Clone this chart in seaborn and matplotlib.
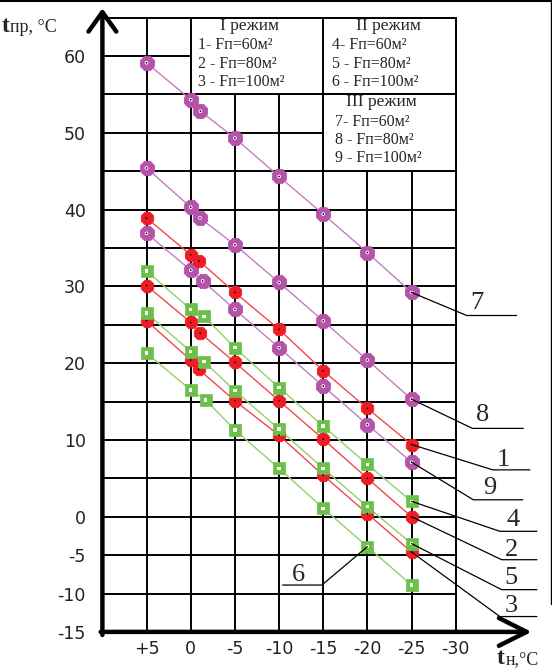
import numpy as np
import pandas as pd
import matplotlib
matplotlib.use("Agg")
import matplotlib.pyplot as plt
from matplotlib.lines import Line2D
from matplotlib.patches import Rectangle
import seaborn as sns

# ---------------- data ----------------
t_out = [5, 0, -5, -10, -15, -20, -25]          # outdoor temperature, °C
series_names = ["1", "2", "3", "4", "5", "6", "7", "8", "9"]
regimes = ["I", "I", "I", "II", "II", "II", "III", "III", "III"]

t_pr_1 = [38.9, 34.1, 29.2, 24.4, 19.0, 14.1, 9.4]
t_pr_2 = [30.1, 25.3, 20.1, 15.1, 10.1, 5.0, 0.0]
t_pr_3 = [25.5, 20.4, 15.1, 10.6, 5.4, 0.4, -4.6]
t_pr_4 = [32.0, 27.0, 22.0, 16.8, 11.8, 6.8, 2.0]
t_pr_5 = [26.5, 21.5, 16.4, 11.4, 6.3, 1.3, -3.5]
t_pr_6 = [21.3, 16.5, 11.3, 6.3, 1.1, -3.9, -8.9]
t_pr_7 = [59.1, 54.3, 49.3, 44.3, 39.4, 34.4, 29.2]
t_pr_8 = [45.4, 40.3, 35.4, 30.5, 25.5, 20.4, 15.3]
t_pr_9 = [36.9, 32.1, 27.0, 22.0, 17.0, 12.0, 7.1]

# extra point of every series near t_out = -1
mid_x = [-0.95, -1.1, -0.9, -1.5, -1.5, -1.7, -1.1, -1.05, -1.35]
mid_y = [33.3, 23.9, 19.2, 26.1, 20.2, 15.2, 52.8, 38.9, 30.7]

y_ticks = [60, 50, 40, 30, 20, 10, 0, -5, -10, -15]
x_ticks = [5, 0, -5, -10, -15, -20, -25, -30]
x_tick_labels = ["+5", "0", "-5", "-10", "-15", "-20", "-25", "-30"]

legend_I = ["1- Fп=60м²", "2 - Fп=80м²", "3 - Fп=100м²"]
legend_II = ["4- Fп=60м²", "5 - Fп=80м²", "6 - Fп=100м²"]
legend_III = ["7- Fп=60м²", "8 - Fп=80м²", "9 - Fп=100м²"]

all_vals = [t_pr_1, t_pr_2, t_pr_3, t_pr_4, t_pr_5, t_pr_6, t_pr_7, t_pr_8, t_pr_9]
rows = []
for i, name in enumerate(series_names):
    xs = t_out[:2] + [mid_x[i]] + t_out[2:]
    ys = all_vals[i][:2] + [mid_y[i]] + all_vals[i][2:]
    for x, y in zip(xs, ys):
        rows.append({"series": name, "regime": regimes[i], "t_n": x, "t_pr": y})
df = pd.DataFrame(rows)

# ---------------- style ----------------
sns.set_theme(style="white")
plt.rcParams["font.family"] = ["DejaVu Sans"]

RED_M, RED_L = "#ee1c24", "#f2474d"
GRN_M, GRN_L = "#6cbf4a", "#92d070"
PUR_M, PUR_L = "#b552aa", "#c47cc2"
line_pal = {"1": RED_L, "2": RED_L, "3": RED_L,
            "4": GRN_L, "5": GRN_L, "6": GRN_L,
            "7": PUR_L, "8": PUR_L, "9": PUR_L}

W, H = 552, 671
fig = plt.figure(figsize=(W / 100, H / 100), dpi=100)
ax = fig.add_axes([102.4 / W, 1 - 631.9 / H, (544 - 102.4) / W, (631.9 - 6.0) / H])
ax.set_xlim(10, -40)
ax.set_ylim(-15, 66.5)
for s in ax.spines.values():
    s.set_visible(False)

# grid
for gx in [5, 0, -5, -10, -15, -20, -25, -30]:
    ax.plot([gx, gx], [-15, 65], color="black", lw=1.4, zorder=1, solid_capstyle="butt")
for gy in range(-10, 70, 5):
    ax.plot([10, -30], [gy, gy], color="black", lw=1.4, zorder=1, solid_capstyle="butt")

# legend table cells
for (x0, y0) in [(0, 55), (-15, 55), (-15, 45)]:
    ax.add_patch(Rectangle((x0, y0), -15, 10, facecolor="white", edgecolor="black",
                           lw=1.4, zorder=2))
serif = "Liberation Serif"
fs_leg = 11.5
ax.text(-6.7, 63.9, "I режим", family=serif, fontsize=12.5, ha="center", va="center", zorder=6)
ax.text(-22.4, 63.9, "II режим", family=serif, fontsize=12.5, ha="center", va="center", zorder=6)
ax.text(-21.6, 54.0, "III режим", family=serif, fontsize=12.5, ha="center", va="center", zorder=6)
for j, yy in enumerate([61.4, 59.0, 56.6]):
    ax.text(-0.86, yy, legend_I[j], family=serif, fontsize=fs_leg, ha="left", va="center", zorder=6)
    ax.text(-15.96, yy, legend_II[j], family=serif, fontsize=fs_leg, ha="left", va="center", zorder=6)
for j, yy in enumerate([51.4, 49.05, 46.7]):
    ax.text(-16.3, yy, legend_III[j], family=serif, fontsize=fs_leg, ha="left", va="center", zorder=6)

# lines
sns.lineplot(data=df, x="t_n", y="t_pr", hue="series", palette=line_pal,
             estimator=None, sort=True, lw=1.0, legend=False, ax=ax, zorder=3)

# markers
mk = [("III", "8", PUR_M, 125), ("I", "8", RED_M, 95), ("II", "s", GRN_M, 80)]
for reg, m, c, s in mk:
    sub = df[df.regime == reg]
    sns.scatterplot(data=sub, x="t_n", y="t_pr", marker=m, s=s, color=c,
                    edgecolor=c, linewidth=0.5, legend=False, ax=ax, zorder=4)
    if reg == "II":
        sns.scatterplot(data=sub, x="t_n", y="t_pr", marker="s", s=6, color="white",
                        edgecolor="none", legend=False, ax=ax, zorder=5)
    elif reg == "III":
        sns.scatterplot(data=sub, x="t_n", y="t_pr", marker="o", s=7, color="white",
                        edgecolor="none", legend=False, ax=ax, zorder=5)
        sns.scatterplot(data=sub, x="t_n", y="t_pr", marker="o", s=1.5, color="black",
                        edgecolor="none", legend=False, ax=ax, zorder=5)
    else:
        sns.scatterplot(data=sub, x="t_n", y="t_pr", marker="o", s=1.5, color="black",
                        edgecolor="none", legend=False, ax=ax, zorder=5)

ax.set_xlabel("")
ax.set_ylabel("")

# leader labels: (label, point, line start, underline end, text pos)
leaders = [
    ("7", (-25, 29.2), (-31.25, 26.2), -36.9, (-32.4, 27.8)),
    ("8", (-25, 15.3), (-31.9, 11.5), -37.65, (-33.1, 13.2)),
    ("1", (-25, 9.4), (-34.2, 6.1), -38.4, (-35.4, 7.4)),
    ("9", (-25, 7.1), (-32.0, 2.2), -37.6, (-33.9, 3.7)),
    ("4", (-25, 2.0), (-35.0, -1.9), -39.2, (-36.5, -0.4)),
    ("2", (-25, 0.0), (-35.2, -5.6), -39.2, (-36.3, -4.3)),
    ("5", (-25, -3.5), (-35.2, -9.5), -39.2, (-36.3, -8.0)),
    ("3", (-25, -4.6), (-35.0, -13.0), -39.2, (-36.3, -11.6)),
    ("6", (-20, -3.9), (-14.85, -8.9), -10.4, (-12.15, -7.6)),
]
for lab, p, q, xe, tp in leaders:
    ax.plot([p[0], q[0], xe], [p[1], q[1], q[1]], color="black", lw=0.9,
            zorder=6, clip_on=False)
    ax.text(tp[0], tp[1], lab, family=serif, fontsize=19, ha="center", va="center",
            zorder=6, clip_on=False)

# axes with arrows
ax.annotate("", xy=(10, 66.2), xytext=(10, -15.4), xycoords="data",
            arrowprops=dict(arrowstyle="->,head_length=1.4,head_width=1.0", lw=3.2,
                            color="black", shrinkA=0, shrinkB=0, mutation_scale=10),
            annotation_clip=False, zorder=7)
ax.annotate("", xy=(-38.6, -15), xytext=(10.2, -15), xycoords="data",
            arrowprops=dict(arrowstyle="->,head_length=2.0,head_width=1.0", lw=3.2,
                            color="black", shrinkA=0, shrinkB=0, mutation_scale=10),
            annotation_clip=False, zorder=7)

# ticks
ax.set_yticks(y_ticks)
ax.set_yticklabels([str(v) for v in y_ticks])
ax.set_xticks(x_ticks)
ax.set_xticklabels(x_tick_labels)
ax.tick_params(axis="y", length=0, pad=12, labelsize=12.5, labelcolor="#222222")
ax.tick_params(axis="x", length=0, pad=6, labelsize=12.5, labelcolor="#222222")

# axis titles
fig.text(2 / W, 1 - 32 / H, "t", family=serif, fontweight="bold", fontsize=17,
         ha="left", va="baseline")
fig.text(10 / W, 1 - 32 / H, "пр, °C", family=serif, fontsize=13,
         ha="left", va="baseline")
fig.text(497 / W, 1 - 664 / H, "t", family=serif, fontweight="bold", fontsize=17,
         ha="left", va="baseline")
fig.text(506 / W, 1 - 664 / H, "н,°C", family=serif, fontsize=13,
         ha="left", va="baseline")

# outer frame lines (top and right)
fig.add_artist(Line2D([0, 1], [0.999, 0.999], color="black", lw=1.5, transform=fig.transFigure))
fig.add_artist(Line2D([0.998, 0.998], [0.1, 1], color="black", lw=1.0, transform=fig.transFigure))

fig.savefig("out.png", dpi=100)
